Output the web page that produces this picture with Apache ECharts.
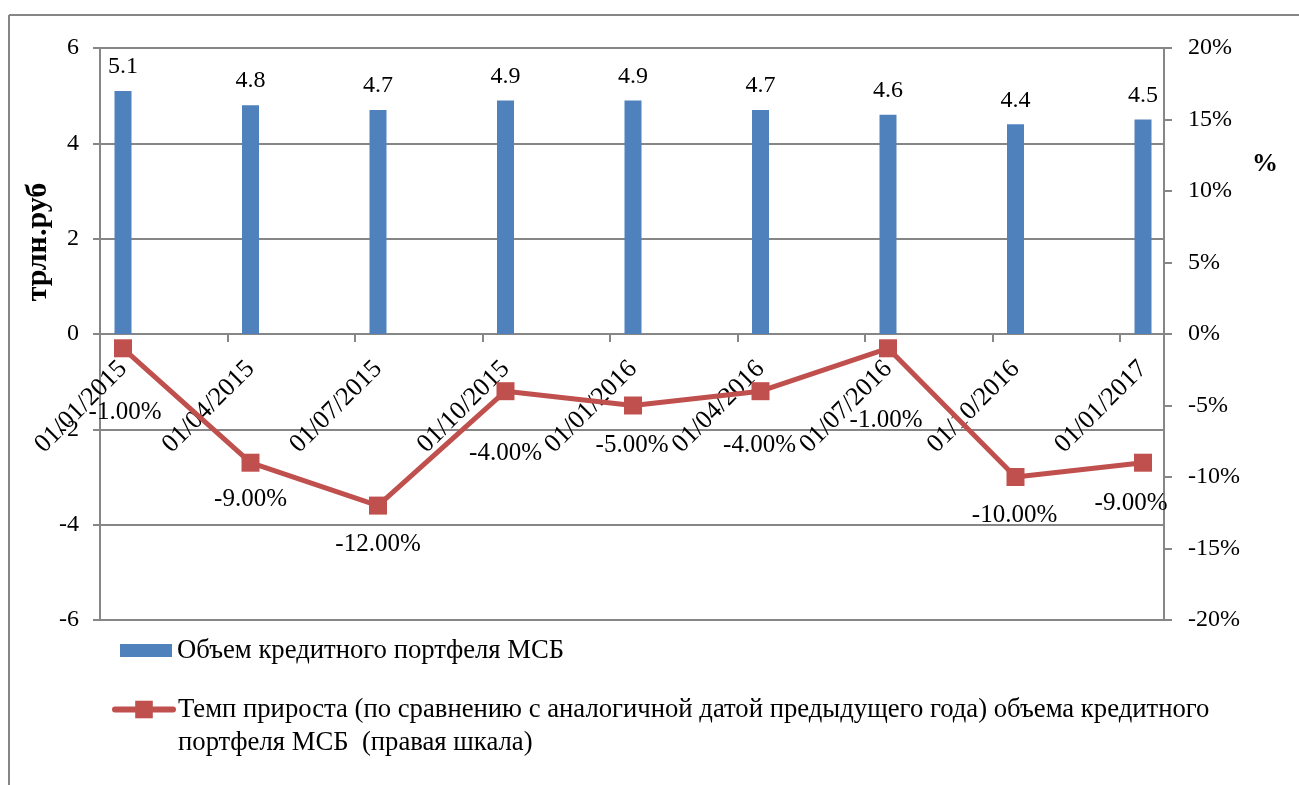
<!DOCTYPE html>
<html>
<head>
<meta charset="utf-8">
<script src="https://cdn.jsdelivr.net/npm/echarts@6/dist/echarts.min.js"></script>
<style>
html,body{margin:0;padding:0;background:#fff;}
#chart{width:1299px;height:785px;}
</style>
</head>
<body>
<div id="chart"></div>
<script>
// ---- data ----
const categories = ['01/01/2015','01/04/2015','01/07/2015','01/10/2015','01/01/2016','01/04/2016','01/07/2016','01/10/2016','01/01/2017'];
const volume = [5.1, 4.8, 4.7, 4.9, 4.9, 4.7, 4.6, 4.4, 4.5];           // трлн.руб
const growth = [-0.01, -0.09, -0.12, -0.04, -0.05, -0.04, -0.01, -0.10, -0.09]; // доля
const volumeName = 'Объем кредитного портфеля МСБ';
const growthName = 'Темп прироста (по сравнению с аналогичной датой предыдущего года) объема кредитного\nпортфеля МСБ  (правая шкала)';
const leftAxisName = 'трлн.руб';
const rightAxisName = '%';
const leftScale = {min: -6, max: 6, interval: 2};
const rightScale = {min: -0.2, max: 0.2, interval: 0.05};

// ---- styles (not data) ----
const growthLabelOffsets = [[2,64],[0,37],[0,39],[0,62],[-1,40],[-1,54],[-2,72],[-1,38],[-12,41]];
const FONT = 'Liberation Serif';
const GRAY = '#868686';
const BLUE = '#4F81BD';
const RED = '#C0504D';
const GRID_TOP = 48, GRID_BOTTOM = 165, CHART_H = 785;
const gridHeight = CHART_H - GRID_TOP - GRID_BOTTOM;
const zeroOffsetFromBottom = gridHeight * (0 - leftScale.min) / (leftScale.max - leftScale.min);
const tickSpanUnits = 1064 / 127.5;

const chart = echarts.init(document.getElementById('chart'), null, {renderer: 'canvas'});

const growthData = growth.map((v, i) => ({
  value: v,
  label: {offset: growthLabelOffsets[i]}
}));

const option = {
  animation: false,
  backgroundColor: '#ffffff',
  textStyle: {fontFamily: FONT},
  grid: [
    {left: 100, right: 135, top: GRID_TOP, bottom: GRID_BOTTOM, containLabel: false},
    {left: 123, right: 156, top: GRID_TOP, bottom: GRID_BOTTOM, containLabel: false}
  ],
  xAxis: [
    {
      type: 'value', gridIndex: 0, min: 0, max: tickSpanUnits, interval: 1,
      axisLine: {show: true, onZero: true, lineStyle: {color: GRAY, width: 2}},
      axisTick: {show: true, inside: false, length: 8, lineStyle: {color: GRAY, width: 2}},
      axisLabel: {show: false},
      splitLine: {show: false}
    },
    {
      type: 'category', gridIndex: 1, data: categories, boundaryGap: false,
      position: 'bottom', offset: -zeroOffsetFromBottom,
      axisLine: {show: false, onZero: false},
      axisTick: {show: false},
      axisLabel: {
        show: true, interval: 0, rotate: 45, margin: 31,
        align: 'right', verticalAlign: 'middle',
        fontFamily: FONT, fontSize: 26, color: '#000'
      },
      splitLine: {show: false}
    }
  ],
  yAxis: [
    {
      type: 'value', gridIndex: 0, position: 'left',
      min: leftScale.min, max: leftScale.max, interval: leftScale.interval,
      axisLine: {show: true, lineStyle: {color: GRAY, width: 2}},
      axisTick: {show: true, inside: false, length: 7, lineStyle: {color: GRAY, width: 2}},
      axisLabel: {margin: 21, fontFamily: FONT, fontSize: 24, color: '#000'},
      splitLine: {show: true, lineStyle: {color: GRAY, width: 2}}
    },
    {
      type: 'value', gridIndex: 0, position: 'right',
      min: rightScale.min, max: rightScale.max, interval: rightScale.interval,
      axisLine: {show: true, lineStyle: {color: GRAY, width: 2}},
      axisTick: {show: true, inside: false, length: 8, lineStyle: {color: GRAY, width: 2}},
      axisLabel: {
        margin: 24, fontFamily: FONT, fontSize: 24, color: '#000',
        formatter: v => Math.round(v * 100) + '%'
      },
      splitLine: {show: false}
    },
    {
      type: 'value', gridIndex: 1, show: false,
      min: leftScale.min, max: leftScale.max, interval: leftScale.interval,
      splitLine: {show: false}
    },
    {
      type: 'value', gridIndex: 1, show: false,
      min: rightScale.min, max: rightScale.max, interval: rightScale.interval,
      splitLine: {show: false}
    }
  ],
  legend: [
    {
      data: [volumeName], left: 120, top: 637, orient: 'vertical', padding: 0,
      itemWidth: 52, itemHeight: 13, itemGap: 5,
      icon: 'rect',
      textStyle: {fontFamily: FONT, fontSize: 26.7, color: '#000'},
      selectedMode: false
    },
    {
      data: [growthName], left: 112, top: 660, orient: 'vertical', padding: 0,
      itemWidth: 58, itemHeight: 22,
      lineStyle: {width: 6, color: RED, cap: 'round'},
      itemStyle: {color: RED},
      formatter: name => '\n' + name,
      textStyle: {fontFamily: FONT, fontSize: 26.7, color: '#000', lineHeight: 33},
      selectedMode: false
    }
  ],
  series: [
    {
      name: volumeName, type: 'bar', xAxisIndex: 1, yAxisIndex: 2,
      data: volume, barWidth: 17,
      itemStyle: {color: BLUE},
      label: {
        show: true, position: 'top', distance: 12,
        fontFamily: FONT, fontSize: 24, color: '#000',
        formatter: p => p.value.toFixed(1)
      },
      z: 3
    },
    {
      name: growthName, type: 'line', xAxisIndex: 1, yAxisIndex: 3,
      data: growthData,
      symbol: 'rect', symbolSize: 18,
      lineStyle: {color: RED, width: 5},
      itemStyle: {color: RED},
      label: {
        show: true, position: 'inside',
        fontFamily: FONT, fontSize: 25, color: '#000',
        formatter: p => (p.value * 100).toFixed(2) + '%'
      },
      z: 4
    }
  ],
  graphic: [
    {type: 'line', shape: {x1: 9, y1: 15, x2: 1299, y2: 15}, style: {stroke: GRAY, lineWidth: 2}, silent: true},
    {type: 'line', shape: {x1: 9, y1: 15, x2: 9, y2: 785}, style: {stroke: GRAY, lineWidth: 2}, silent: true},
    {
      type: 'text', x: 38, y: 242, rotation: Math.PI / 2,
      style: {text: leftAxisName, font: 'bold 30px "Liberation Serif"', fill: '#000', align: 'center', verticalAlign: 'middle'},
      silent: true
    },
    {
      type: 'text', x: 1265, y: 164,
      style: {text: rightAxisName, font: 'bold 26px "Liberation Serif"', fill: '#000', align: 'center', verticalAlign: 'middle'},
      silent: true
    }
  ]
};

chart.setOption(option);
</script>
</body>
</html>
